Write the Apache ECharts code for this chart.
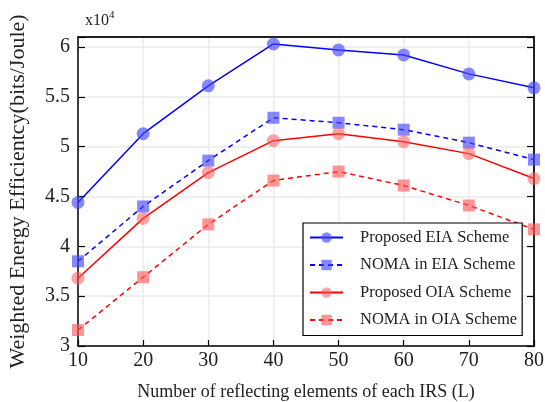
<!DOCTYPE html>
<html>
<head>
<meta charset="utf-8">
<script src="https://cdn.jsdelivr.net/npm/echarts@6/dist/echarts.min.js"></script>
<style>
  html, body { margin: 0; padding: 0; background: #fff; }
  #main { width: 545px; height: 402px; }
</style>
</head>
<body>
<div id="main"></div>
<script>
var xValues = [10, 20, 30, 40, 50, 60, 70, 80];
var proposedEIA = [44400, 51300, 56100, 60300, 59700, 59200, 57300, 55900];
var nomaEIA = [38500, 44000, 48600, 52900, 52400, 51700, 50400, 48700];
var proposedOIA = [36800, 42800, 47400, 50600, 51300, 50500, 49300, 46800];
var nomaOIA = [31600, 36900, 42200, 46600, 47500, 46100, 44100, 41700];

var serifFont = '"Liberation Serif", "DejaVu Serif", serif';

function pairs(vals) {
    return vals.map(function (v, i) { return [xValues[i], v]; });
}

function makeSeries(name, vals, color, markerColor, symbol, dashed) {
    return {
        name: name,
        type: 'line',
        data: pairs(vals),
        symbol: symbol,
        symbolSize: symbol === 'circle' ? 13 : 12,
        lineStyle: { color: color, width: 1.5, type: dashed ? [5, 4] : 'solid' },
        itemStyle: { color: markerColor, borderWidth: 0 },
        emphasis: { disabled: true },
        z: 3
    };
}

var option = {
    animation: false,
    backgroundColor: '#fff',
    textStyle: { fontFamily: serifFont },
    grid: { left: 78, right: 11, top: 37, bottom: 56, outerBoundsMode: 'none', containLabel: false },
    legend: {
        orient: 'vertical',
        left: 303,
        top: 223,
        backgroundColor: '#fff',
        borderColor: '#000',
        borderWidth: 1.2,
        borderRadius: 0,
        padding: [6, 5, 7, 6],
        itemWidth: 33,
        itemHeight: 13,
        itemGap: 10.5,
        textStyle: { fontFamily: serifFont, fontSize: 16.5, color: '#222', padding: [0, 0, 0, 12] },
        data: ['Proposed EIA Scheme', 'NOMA in EIA Scheme', 'Proposed OIA Scheme', 'NOMA in OIA Scheme']
    },
    graphic: [{
        type: 'text',
        left: 85,
        top: 10,
        style: {
            text: '{b|x10}{s|4}',
            rich: {
                b: { fontFamily: serifFont, fontSize: 16, fill: '#222', verticalAlign: 'bottom' },
                s: { fontFamily: serifFont, fontSize: 11, fill: '#222', verticalAlign: 'top', padding: [0, 0, 8, 0] }
            }
        }
    }],
    xAxis: [{
        type: 'value',
        position: 'bottom',
        min: 10,
        max: 80,
        interval: 10,
        name: 'Number of reflecting elements of each IRS (L)',
        nameLocation: 'middle',
        nameGap: 37,
        nameTextStyle: { fontFamily: serifFont, fontSize: 18, color: '#222' },
        axisLine: { show: true, lineStyle: { color: '#000', width: 1.5 } },
        axisTick: { show: true, inside: true, length: 6, lineStyle: { color: '#000', width: 1.2 } },
        axisLabel: { fontFamily: serifFont, fontSize: 20, color: '#222', margin: 5 },
        splitLine: { show: true, lineStyle: { color: '#ebebeb', width: 1.5 } }
    }, {
        type: 'value',
        position: 'top',
        min: 10,
        max: 80,
        interval: 10,
        axisLine: { show: true, lineStyle: { color: '#222', width: 2 } },
        axisTick: { show: false },
        axisLabel: { show: false },
        splitLine: { show: false }
    }],
    yAxis: [{
        type: 'value',
        position: 'left',
        min: 30000,
        max: 61000,
        interval: 5000,
        name: 'Weighted Energy Efficientcy(bits/Joule)',
        nameLocation: 'middle',
        nameGap: 49,
        nameTextStyle: { fontFamily: serifFont, fontSize: 22, color: '#222' },
        axisLine: { show: true, lineStyle: { color: '#000', width: 1.5 } },
        axisTick: { show: true, inside: true, length: 7, lineStyle: { color: '#000', width: 1.2 } },
        axisLabel: {
            fontFamily: serifFont, fontSize: 20, color: '#222', margin: 8,
            formatter: function (v) {
                if (v % 5000 !== 0) return '';
                return String(v / 10000);
            }
        },
        splitLine: { show: true, lineStyle: { color: '#ebebeb', width: 1.5 } }
    }, {
        type: 'value',
        position: 'right',
        min: 30000,
        max: 61000,
        interval: 5000,
        axisLine: { show: true, lineStyle: { color: '#222', width: 2 } },
        axisTick: { show: true, inside: true, length: 7, lineStyle: { color: '#000', width: 1.2 } },
        axisLabel: { show: false },
        splitLine: { show: false }
    }],
    series: [
        makeSeries('Proposed EIA Scheme', proposedEIA, '#0000ff', 'rgba(70,70,255,0.65)', 'circle', false),
        makeSeries('NOMA in EIA Scheme', nomaEIA, '#0000ff', 'rgba(70,70,255,0.65)', 'rect', true),
        makeSeries('Proposed OIA Scheme', proposedOIA, '#ff0000', 'rgba(255,90,90,0.55)', 'circle', false),
        makeSeries('NOMA in OIA Scheme', nomaOIA, '#ff0000', 'rgba(255,90,90,0.65)', 'rect', true)
    ]
};

var chart = echarts.init(document.getElementById('main'), null, { renderer: 'canvas' });
chart.setOption(option);
</script>
</body>
</html>
